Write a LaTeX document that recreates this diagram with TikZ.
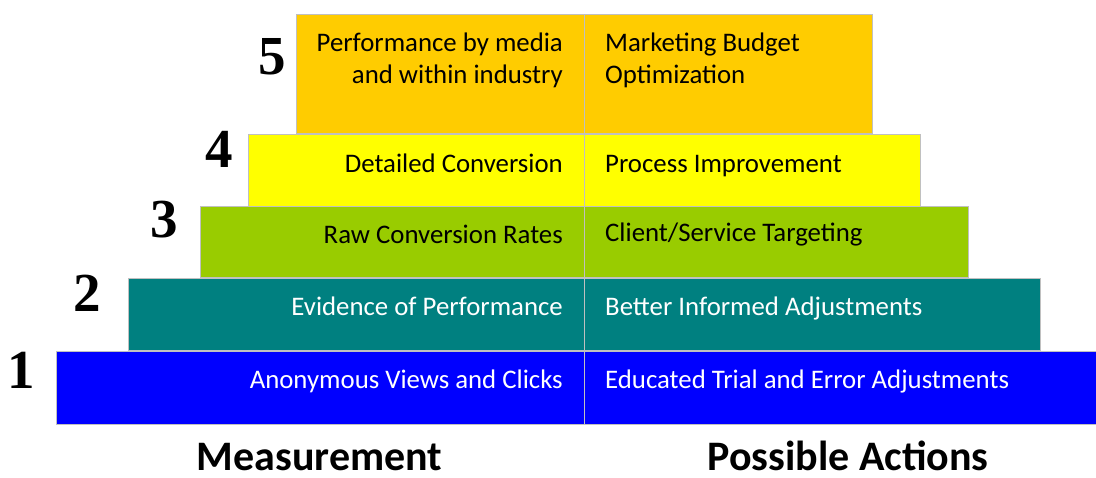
\documentclass[tikz,border=0pt]{standalone}
\usepackage{fontspec}
\setmainfont{Carlito}
\newfontfamily\numfont{Liberation Serif}
\definecolor{lvA}{HTML}{0000FF}
\definecolor{lvB}{HTML}{008080}
\definecolor{lvC}{HTML}{99CC00}
\definecolor{lvD}{HTML}{FFFF00}
\definecolor{lvE}{HTML}{FFCC00}
\definecolor{edgegray}{HTML}{C0C0C0}
\begin{document}
\begin{tikzpicture}[x=1pt,y=-1pt,
  tier/.style={draw=edgegray, line width=1.3pt, inner sep=0pt, anchor=north west},
  lefttxt/.style={anchor=base east, inner sep=0pt, font=\fontsize{26.8}{32}\selectfont, align=right},
  righttxt/.style={anchor=base west, inner sep=0pt, font=\fontsize{26.8}{32}\selectfont, align=left},
  numlbl/.style={anchor=base, inner sep=0pt, font=\numfont\bfseries\fontsize{55}{55}\selectfont},
  footlbl/.style={anchor=base, inner sep=0pt, text depth=0pt, font=\bfseries\fontsize{42}{42}\selectfont}]
\clip (0,0) rectangle (1096,478);
\fill[white] (0,0) rectangle (1096,478);
% tiers
\node[tier, fill=lvA, minimum width=1056pt, minimum height=73pt] (t1) at (56,351) {};
\node[tier, fill=lvB, minimum width=912pt, minimum height=72pt] (t2) at (128,278) {};
\node[tier, fill=lvC, minimum width=768pt, minimum height=71pt] (t3) at (200,206) {};
\node[tier, fill=lvD, minimum width=672pt, minimum height=72pt] (t4) at (248,134) {};
\node[tier, fill=lvE, minimum width=576pt, minimum height=119pt] (t5) at (296,14) {};
% divider
\draw[draw=edgegray, line width=1.3pt] (t5.north) -- (t1.south -| t5.north);
% texts
\node[lefttxt, text=white] (m1) at (563,389) {Anonymous Views and Clicks};
\node[righttxt, text=white] (a1) at (605,389) {Educated Trial and Error Adjustments};
\node[lefttxt, text=white] (m2) at (563,316) {Evidence of Performance};
\node[righttxt, text=white] (a2) at (605,316) {Better Informed Adjustments};
\node[lefttxt] (m3) at (563,244) {Raw Conversion Rates};
\node[righttxt] (a3) at (605,242) {Client/Service Targeting};
\node[lefttxt] (m4) at (563,173) {Detailed Conversion};
\node[righttxt] (a4) at (605,173) {Process Improvement};
\node[lefttxt] (m5) at (563,84) {Performance by media\\and within industry};
\node[righttxt] (a5) at (605,84) {Marketing Budget\\Optimization};
% numbers
\node[numlbl] (n1) at (21,389) {1};
\node[numlbl] (n2) at (87,312) {2};
\node[numlbl] (n3) at (164,238) {3};
\node[numlbl] (n4) at (219,168) {4};
\node[numlbl] (n5) at (272,75) {5};
% footer
\node[footlbl] (fm) at (319.5,471) {Measurement};
\node[footlbl] (fa) at (848,471) {Possible Actions};
\end{tikzpicture}
\end{document}
